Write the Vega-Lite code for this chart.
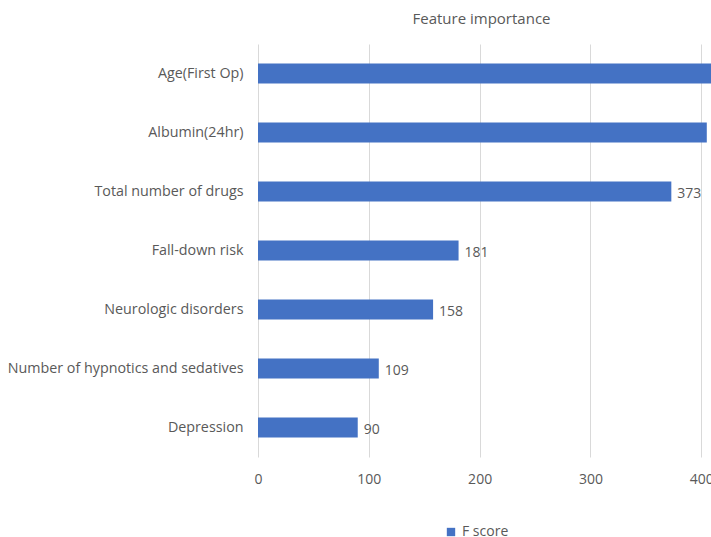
{
  "$schema": "https://vega.github.io/schema/vega-lite/v6.json",
  "autosize": {"type": "none"},
  "padding": {"left": 258, "top": 44, "right": 0, "bottom": 80},
  "width": 453,
  "height": 413,
  "background": "#ffffff",
  "title": {
    "text": "Feature importance",
    "fontSize": 15,
    "font": "Open Sans",
    "fontWeight": "normal",
    "color": "#595959",
    "anchor": "middle",
    "dx": -3,
    "offset": 17
  },
  "data": {
    "values": [
      {"feature": "Age(First Op)", "score": 430, "series": "F score"},
      {"feature": "Albumin(24hr)", "score": 405, "series": "F score"},
      {"feature": "Total number of drugs", "score": 373, "series": "F score"},
      {"feature": "Fall-down risk", "score": 181, "series": "F score"},
      {"feature": "Neurologic disorders", "score": 158, "series": "F score"},
      {"feature": "Number of hypnotics and sedatives", "score": 109, "series": "F score"},
      {"feature": "Depression", "score": 90, "series": "F score"}
    ]
  },
  "encoding": {
    "y": {
      "field": "feature",
      "type": "nominal",
      "sort": null,
      "scale": {"paddingInner": 0.66, "paddingOuter": 0.33},
      "axis": {
        "title": null,
        "domain": false,
        "ticks": false,
        "labelPadding": 15,
        "labelFontSize": 14.3,
        "labelFont": "Open Sans",
        "labelColor": "#595959",
        "labelLimit": 300
      }
    },
    "x": {
      "field": "score",
      "type": "quantitative",
      "scale": {"domain": [0, 408.8], "nice": false},
      "axis": {
        "title": null,
        "values": [0, 100, 200, 300, 400],
        "domain": false,
        "ticks": false,
        "labelPadding": 15,
        "labelFontSize": 14,
        "labelFont": "Open Sans",
        "labelColor": "#595959",
        "grid": true,
        "gridColor": "#d9d9d9",
        "labelFlush": false
      }
    }
  },
  "layer": [
    {
      "mark": {"type": "bar", "clip": true},
      "encoding": {
        "color": {
          "field": "series",
          "type": "nominal",
          "scale": {"range": ["#4472C4"]},
          "legend": {
            "title": null,
            "orient": "none",
            "legendX": 186,
            "legendY": 481,
            "symbolType": "square",
            "symbolSize": 70,
            "symbolStrokeWidth": 0,
            "labelFontSize": 14,
            "labelFont": "Open Sans",
            "labelColor": "#595959",
            "labelOffset": 4
          }
        }
      }
    },
    {
      "mark": {
        "type": "text",
        "clip": true,
        "align": "left",
        "dx": 6,
        "dy": 2,
        "fontSize": 14,
        "font": "Open Sans",
        "color": "#595959"
      },
      "encoding": {
        "text": {"field": "score", "type": "quantitative"}
      }
    }
  ],
  "config": {
    "view": {"stroke": null}
  }
}
